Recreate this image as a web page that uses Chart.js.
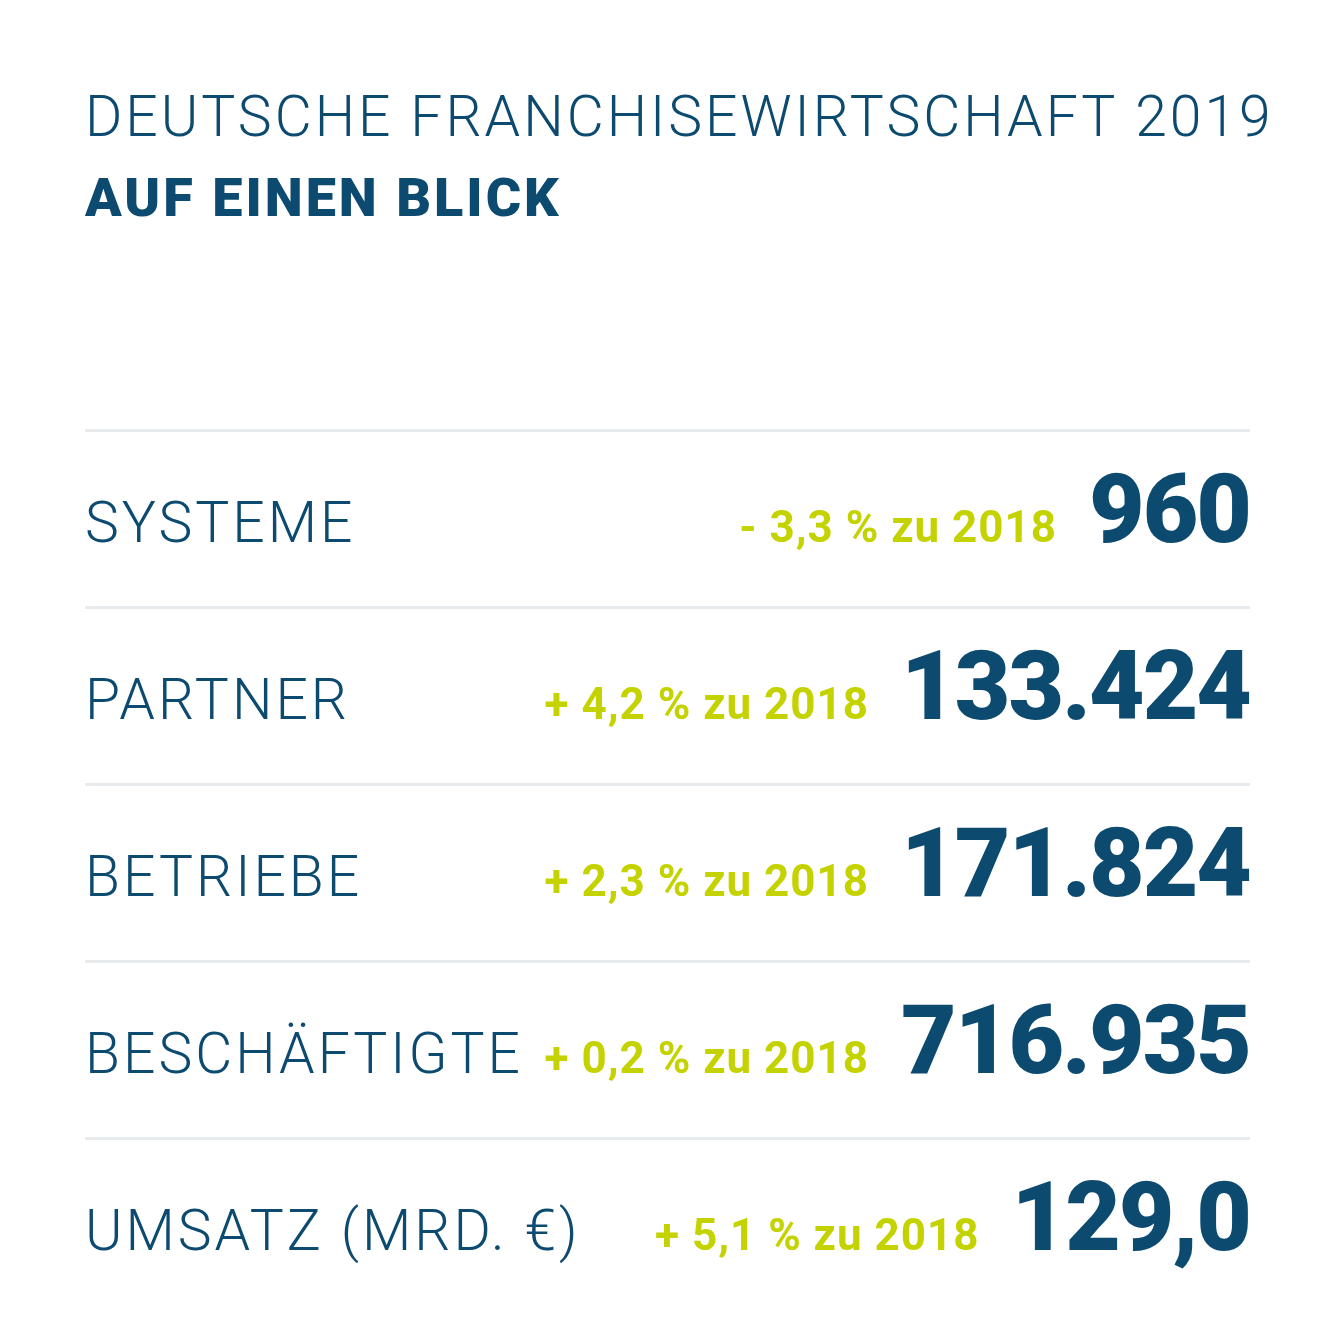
<!DOCTYPE html>
<html>
<head>
<meta charset="utf-8">
<script src="https://cdn.jsdelivr.net/npm/chart.js@4"></script>
<style>
  html, body { margin: 0; padding: 0; background: #fff; }
  #wrap { width: 1334px; height: 1334px; }
</style>
</head>
<body>
<div id="wrap"><canvas id="chart"></canvas></div>
<script>
// Kennzahlen
const kategorien = ['SYSTEME', 'PARTNER', 'BETRIEBE', 'BESCHÄFTIGTE', 'UMSATZ (MRD. €)'];
const werte = [960, 133424, 171824, 716935, 129.0];
const wertText = ['960', '133.424', '171.824', '716.935', '129,0'];
const veraenderung = ['- 3,3 % zu 2018', '+ 4,2 % zu 2018', '+ 2,3 % zu 2018', '+ 0,2 % zu 2018', '+ 5,1 % zu 2018'];

const NAVY = '#0c4a70';
const GRUEN = '#c4d300';

// Zeichnet Titel und Zeilentexte an den Positionen der y-Skala
const textPlugin = {
  id: 'zeilenText',
  afterDraw(chart) {
    const { ctx, chartArea, scales } = chart;
    const left = chartArea.left, right = chartArea.right;
    ctx.save();
    ctx.textBaseline = 'alphabetic';
    ctx.fillStyle = NAVY;
    ctx.letterSpacing = '3px';
    ctx.font = '300 57px Roboto, sans-serif';
    ctx.textAlign = 'left';
    ctx.fillText('DEUTSCHE FRANCHISEWIRTSCHAFT 2019', left, 136);
    ctx.font = '900 54px Roboto, sans-serif';
    ctx.fillText('AUF EINEN BLICK', left, 216);

    kategorien.forEach((k, i) => {
      const y = scales.y.getPixelForValue(i);
      ctx.letterSpacing = '3px';
      ctx.fillStyle = NAVY;
      ctx.textAlign = 'left';
      ctx.font = '300 57px Roboto, sans-serif';
      ctx.fillText(k, left, y + 23);

      ctx.letterSpacing = '-2px';
      ctx.textAlign = 'right';
      ctx.font = '900 96px Roboto, sans-serif';
      ctx.fillText(wertText[i], right, y + 23);
      const w = ctx.measureText(wertText[i]).width;

      ctx.letterSpacing = '1px';
      ctx.fillStyle = GRUEN;
      ctx.font = '700 44px Roboto, sans-serif';
      ctx.fillText(veraenderung[i], right - w - 32, y + 23);
    });
    ctx.restore();
  },
};

new Chart(document.getElementById('chart'), {
  type: 'bar',
  data: {
    labels: kategorien,
    datasets: [{ data: werte, backgroundColor: 'rgba(0,0,0,0)' }],
  },
  options: {
    indexAxis: 'y',
    responsive: true,
    maintainAspectRatio: false,
    animation: false,
    layout: { padding: { top: 430, left: 85, right: 84, bottom: 19 } },
    plugins: { legend: { display: false }, tooltip: { enabled: false } },
    scales: {
      x: { display: false },
      y: {
        ticks: { display: false },
        border: { display: false },
        grid: {
          offset: true,
          lineWidth: 3,
          drawTicks: false,
          // letzte Linie unter der Tabelle ausblenden
          color: ctx => (ctx.type !== 'tick' ? 'rgba(0,0,0,0)' : '#e8ebee'),
        },
      },
    },
  },
  plugins: [textPlugin],
});
</script>
</body>
</html>
